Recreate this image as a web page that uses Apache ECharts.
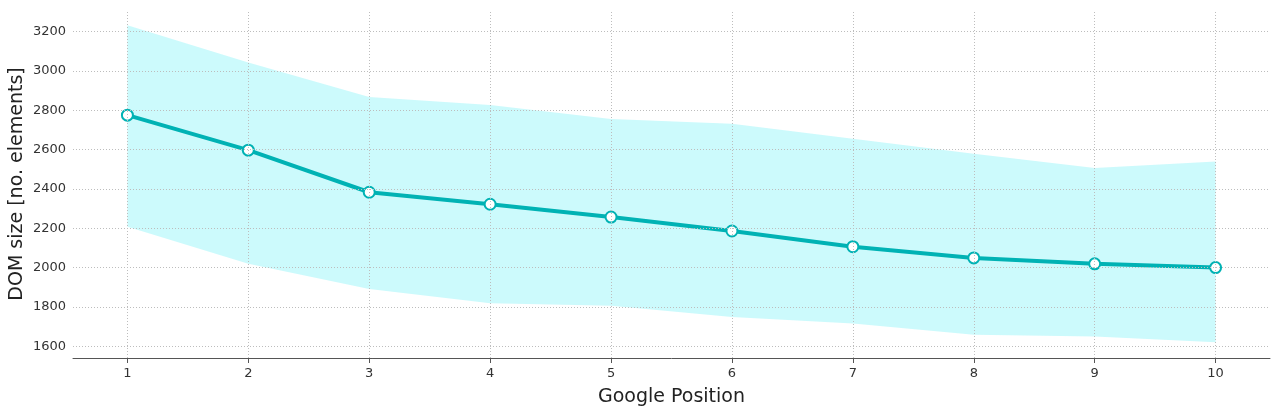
<!DOCTYPE html>
<html>
<head>
<meta charset="utf-8">
<script src="https://cdn.jsdelivr.net/npm/echarts@6/dist/echarts.min.js"></script>
<style>
html,body{margin:0;padding:0;background:#fff;}
#main{width:1280px;height:414px;}
</style>
</head>
<body>
<div id="main"></div>
<script>
const positions = [1, 2, 3, 4, 5, 6, 7, 8, 9, 10];
const meanValues = [2775, 2597, 2383, 2322, 2257, 2186, 2106, 2049, 2019, 2000];
const upperValues = [3232, 3043, 2868, 2827, 2756, 2731, 2655, 2579, 2506, 2539];
const lowerValues = [2208, 2019, 1891, 1818, 1806, 1749, 1715, 1658, 1649, 1620];
const yTicks = [1600, 1800, 2000, 2200, 2400, 2600, 2800, 3000, 3200];

const FONT = 'DejaVu Sans';
const chart = echarts.init(document.getElementById('main'), null, {renderer: 'canvas'});

const gridLineStyle = {color: '#bdbdbd', type: [1, 2], width: 1};

const option = {
  animation: false,
  grid: {left: 73, right: 10, top: 10, bottom: 56, containLabel: false, outerBoundsMode: 'none'},
  xAxis: {
    type: 'value', min: 0.55, max: 10.45,
    name: 'Google Position', nameLocation: 'middle', nameGap: 30, nameMoveOverlap: false,
    nameTextStyle: {fontFamily: FONT, fontSize: 19, color: '#222'},
    axisLine: {show: true, lineStyle: {color: '#555', width: 1}},
    axisTick: {show: true, length: 5, customValues: positions, lineStyle: {color: '#555'}},
    axisLabel: {customValues: positions, fontFamily: FONT, fontSize: 13, color: '#333', margin: 9,
      formatter: v => String(v)},
    splitLine: {show: false}
  },
  yAxis: {
    type: 'value', min: 1540, max: 3310,
    name: 'DOM size [no. elements]', nameLocation: 'middle', nameGap: 46, nameMoveOverlap: false,
    nameTextStyle: {fontFamily: FONT, fontSize: 19, color: '#222'},
    axisLine: {show: false},
    axisTick: {show: false, customValues: yTicks},
    axisLabel: {customValues: yTicks, fontFamily: FONT, fontSize: 13, color: '#333', margin: 7,
      formatter: v => String(v)},
    splitLine: {show: false}
  },
  series: [
    {
      type: 'custom', name: 'band', z: 1, silent: true,
      data: positions.map((p, i) => [p, lowerValues[i], upperValues[i]]),
      encode: {x: 0, y: [1, 2]},
      renderItem: function (params, api) {
        if (params.dataIndex !== 0) return null;
        const pts = [];
        for (let i = 0; i < positions.length; i++) pts.push(api.coord([positions[i], upperValues[i]]));
        for (let i = positions.length - 1; i >= 0; i--) pts.push(api.coord([positions[i], lowerValues[i]]));
        return {type: 'polygon', shape: {points: pts}, style: {fill: 'rgba(0, 230, 238, 0.2)', stroke: null}};
      }
    },
    {
      type: 'line', name: 'grid', z: 2, silent: true,
      data: [], symbol: 'none',
      markLine: {
        silent: true, symbol: 'none', label: {show: false},
        lineStyle: gridLineStyle,
        data: positions.map(p => ({xAxis: p})).concat(yTicks.map(v => ({yAxis: v})))
      }
    },
    {
      type: 'line', name: 'mean', z: 3,
      data: positions.map((p, i) => [p, meanValues[i]]),
      symbol: 'circle', symbolSize: 11,
      lineStyle: {color: '#00b2b4', width: 4},
      itemStyle: {color: '#ffffff', borderColor: '#00b2b4', borderWidth: 2}
    }
  ]
};
chart.setOption(option);
</script>
</body>
</html>
